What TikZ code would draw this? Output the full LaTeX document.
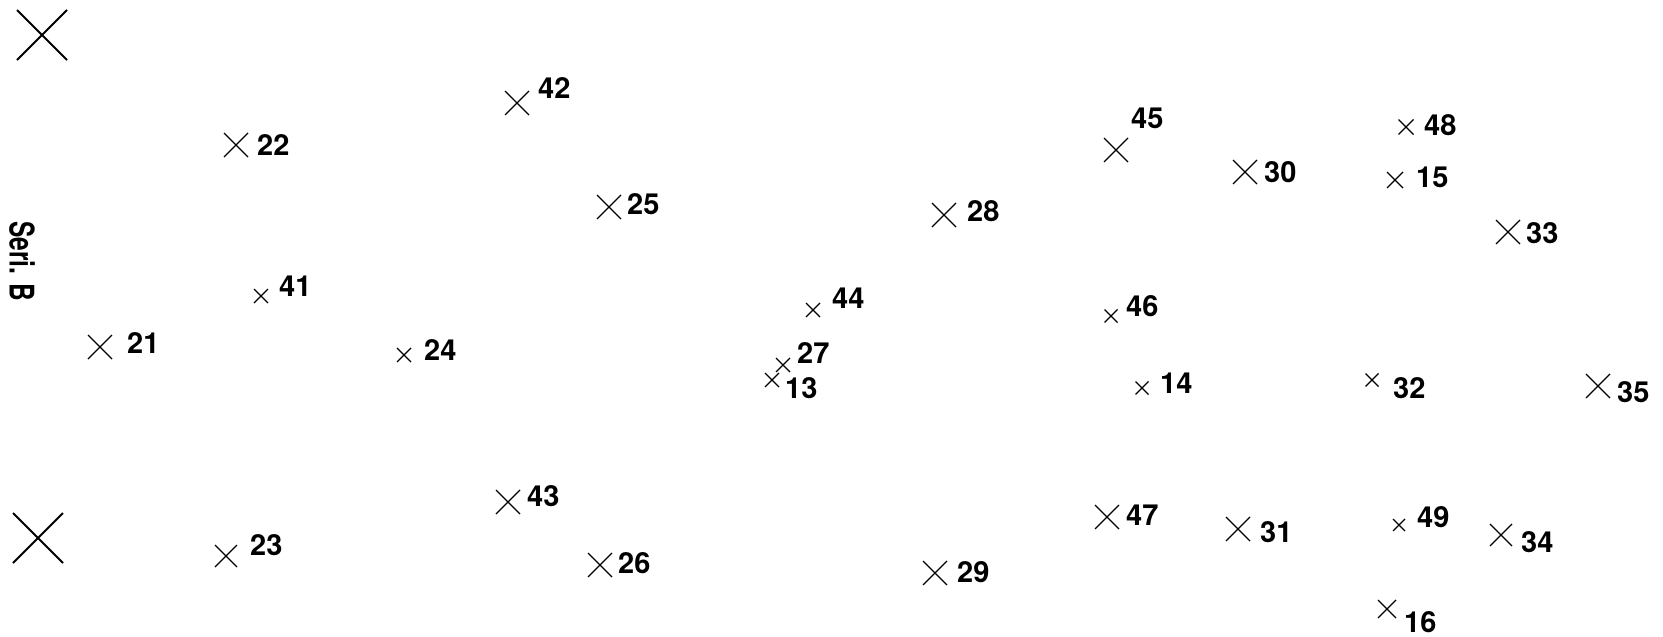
\documentclass[tikz,border=0pt]{standalone}
\usepackage{fontspec}
\setmainfont{TeX Gyre Heros}
\usetikzlibrary{shapes.misc}
\tikzset{
  every picture/.style={x=1pt, y=-1pt},
  mark/.style={cross out, draw=black, line width=1.3pt, inner sep=0pt, outer sep=0pt, minimum size=#1},
  mark/.default=24pt,
  bigmark/.style={mark=50pt, line width=2pt},
  lbl/.style={anchor=west, inner sep=0pt, font=\fontsize{29}{29}\selectfont\bfseries},
}
\begin{document}
\begin{tikzpicture}
  \useasboundingbox (0,0) rectangle (1663,637);
  % corner marks and series title
  \node[bigmark] (ctop) at (42,35) {};
  \node[bigmark] (cbot) at (38,538) {};
  \node[font=\fontsize{34}{34}\selectfont\bfseries, rotate=-90, inner sep=0pt] (seri) at (22,261) {\scalebox{0.72}[1]{Seri. B}};
  % upper row
  \node[mark] (m22) at (236,145) {}; \node[lbl] (t22) at (257,145) {22};
  \node[mark] (m42) at (517,103) {}; \node[lbl] (t42) at (538,88) {42};
  \node[mark] (m25) at (609,207) {}; \node[lbl] (t25) at (627,204) {25};
  \node[mark] (m28) at (944,215) {}; \node[lbl] (t28) at (967,211) {28};
  \node[mark] (m45) at (1116,150) {}; \node[lbl] (t45) at (1131,118) {45};
  \node[mark] (m30) at (1245,172) {}; \node[lbl] (t30) at (1264,172) {30};
  \node[mark=15pt] (m48) at (1406,127) {}; \node[lbl] (t48) at (1424,125) {48};
  \node[mark=16pt] (m15) at (1395,180) {}; \node[lbl] (t15) at (1416,177) {15};
  \node[mark] (m33) at (1508,232) {}; \node[lbl] (t33) at (1526,233) {33};
  % middle row
  \node[mark] (m21) at (100,347) {}; \node[lbl] (t21) at (127,343) {21};
  \node[mark=14pt] (m41) at (261,296) {}; \node[lbl] (t41) at (279,286) {41};
  \node[mark=14pt] (m24) at (404,355) {}; \node[lbl] (t24) at (424,350) {24};
  \node[mark=14pt] (m44) at (813,310) {}; \node[lbl] (t44) at (832,298) {44};
  \node[mark=14pt] (m27) at (783,365) {}; \node[lbl] (t27) at (797,353) {27};
  \node[mark=14pt] (m13) at (772,380) {}; \node[lbl] (t13) at (785,388) {13};
  \node[mark=13pt] (m46) at (1111,316) {}; \node[lbl] (t46) at (1126,306) {46};
  \node[mark=13pt] (m14) at (1142,388) {}; \node[lbl] (t14) at (1160,383) {14};
  \node[mark=13pt] (m32) at (1372,380) {}; \node[lbl] (t32) at (1393,388) {32};
  \node[mark] (m35) at (1598,386) {}; \node[lbl] (t35) at (1617,392) {35};
  % lower row
  \node[mark=22pt] (m23) at (226,556) {}; \node[lbl] (t23) at (250,545) {23};
  \node[mark] (m43) at (508,502) {}; \node[lbl] (t43) at (527,496) {43};
  \node[mark] (m26) at (600,565) {}; \node[lbl] (t26) at (618,563) {26};
  \node[mark] (m29) at (935,573) {}; \node[lbl] (t29) at (957,572) {29};
  \node[mark] (m47) at (1107,517) {}; \node[lbl] (t47) at (1126,515) {47};
  \node[mark] (m31) at (1238,529) {}; \node[lbl] (t31) at (1260,532) {31};
  \node[mark=12pt] (m49) at (1399,525) {}; \node[lbl] (t49) at (1417,517) {49};
  \node[mark=22pt] (m34) at (1501,535) {}; \node[lbl] (t34) at (1521,542) {34};
  \node[mark=18pt] (m16) at (1387,609) {}; \node[lbl] (t16) at (1404,622) {16};
\end{tikzpicture}
\end{document}
